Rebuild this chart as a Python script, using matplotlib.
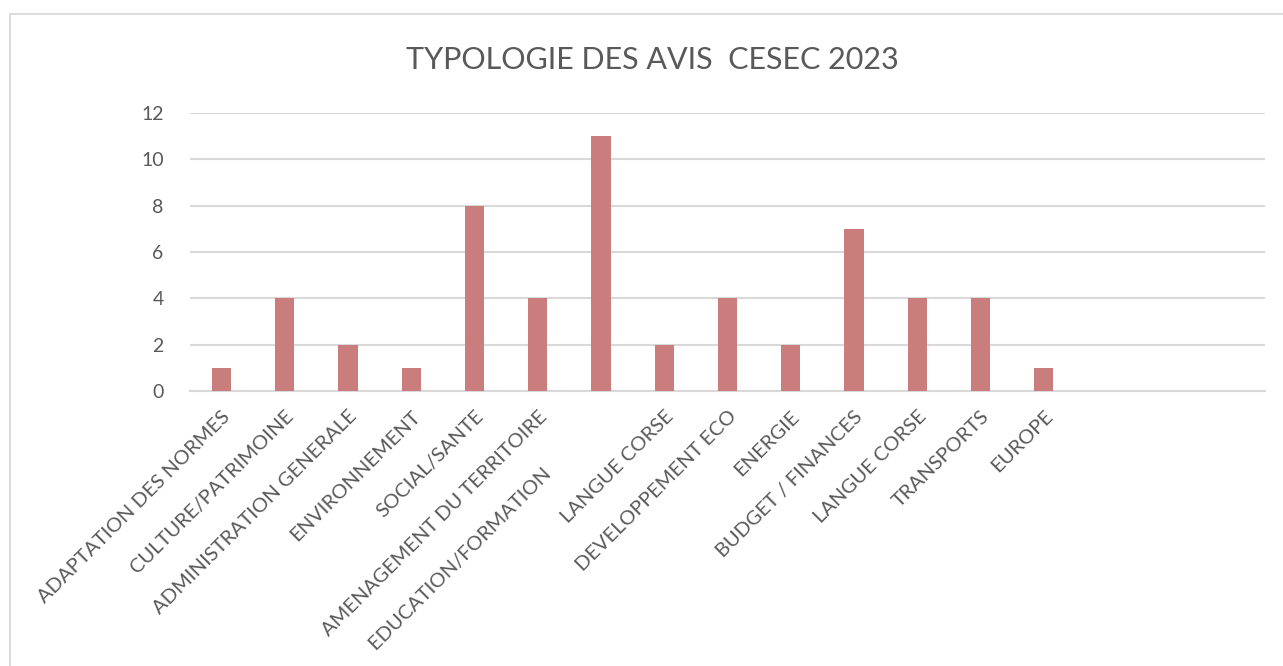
import matplotlib
matplotlib.use("Agg")
import matplotlib.pyplot as plt
from matplotlib.patches import Rectangle

categories = [
    "ADAPTATION DES NORMES",
    "CULTURE/PATRIMOINE",
    "ADMINISTRATION GENERALE",
    "ENVIRONNEMENT",
    "SOCIAL/SANTE",
    "AMENAGEMENT DU TERRITOIRE",
    "EDUCATION/FORMATION" + " " * 16,
    "LANGUE CORSE",
    "DEVELOPPEMENT ECO",
    "ENERGIE",
    "BUDGET / FINANCES",
    "LANGUE CORSE",
    "TRANSPORTS",
    "EUROPE",
]
values = [1, 4, 2, 1, 8, 4, 11, 2, 4, 2, 7, 4, 4, 1]
n_slots = 17
yticks = [0, 2, 4, 6, 8, 10, 12]
title = "TYPOLOGIE DES AVIS  CESEC 2023"

plt.rcParams['font.family'] = ['Lato', 'DejaVu Sans']
text_color = '#595959'
grid_color = '#D9D9D9'
bar_color = '#C97D7D'

fig = plt.figure(figsize=(12.83, 6.66), dpi=100)
fig.patches.append(Rectangle((10/1283, -0.1), 1.2, (666-14)/666 + 0.1,
                             transform=fig.transFigure, fill=False,
                             edgecolor=grid_color, linewidth=1.3))
ax = fig.add_axes([190/1283, 1-391/666, (1265-190)/1283, (391-113)/666])

x = list(range(len(values)))
ax.bar(x, values, width=0.305, color=bar_color, zorder=3)
ax.set_xlim(-0.5, n_slots - 0.5)
ax.set_ylim(0, 12)
ax.set_yticks(yticks)
ax.set_yticklabels([str(t) for t in yticks], fontsize=14, color=text_color)
ax.yaxis.grid(True, color=grid_color, linewidth=1.5, zorder=0)
ax.set_xticks(x)
ax.set_xticklabels(categories, rotation=45, ha='right', rotation_mode='anchor',
                   fontsize=14.5, color=text_color)
ax.tick_params(axis='both', length=0)
ax.tick_params(axis='y', pad=19)
ax.tick_params(axis='x', pad=12)
for s in ['top', 'right', 'left']:
    ax.spines[s].set_visible(False)
ax.spines['bottom'].set_color(grid_color)
ax.spines['bottom'].set_linewidth(1.5)

fig.text(652/1283, 1 - 60/666, title, ha='center', va='center',
         fontsize=22, color=text_color)

fig.savefig("out.png", dpi=100)
